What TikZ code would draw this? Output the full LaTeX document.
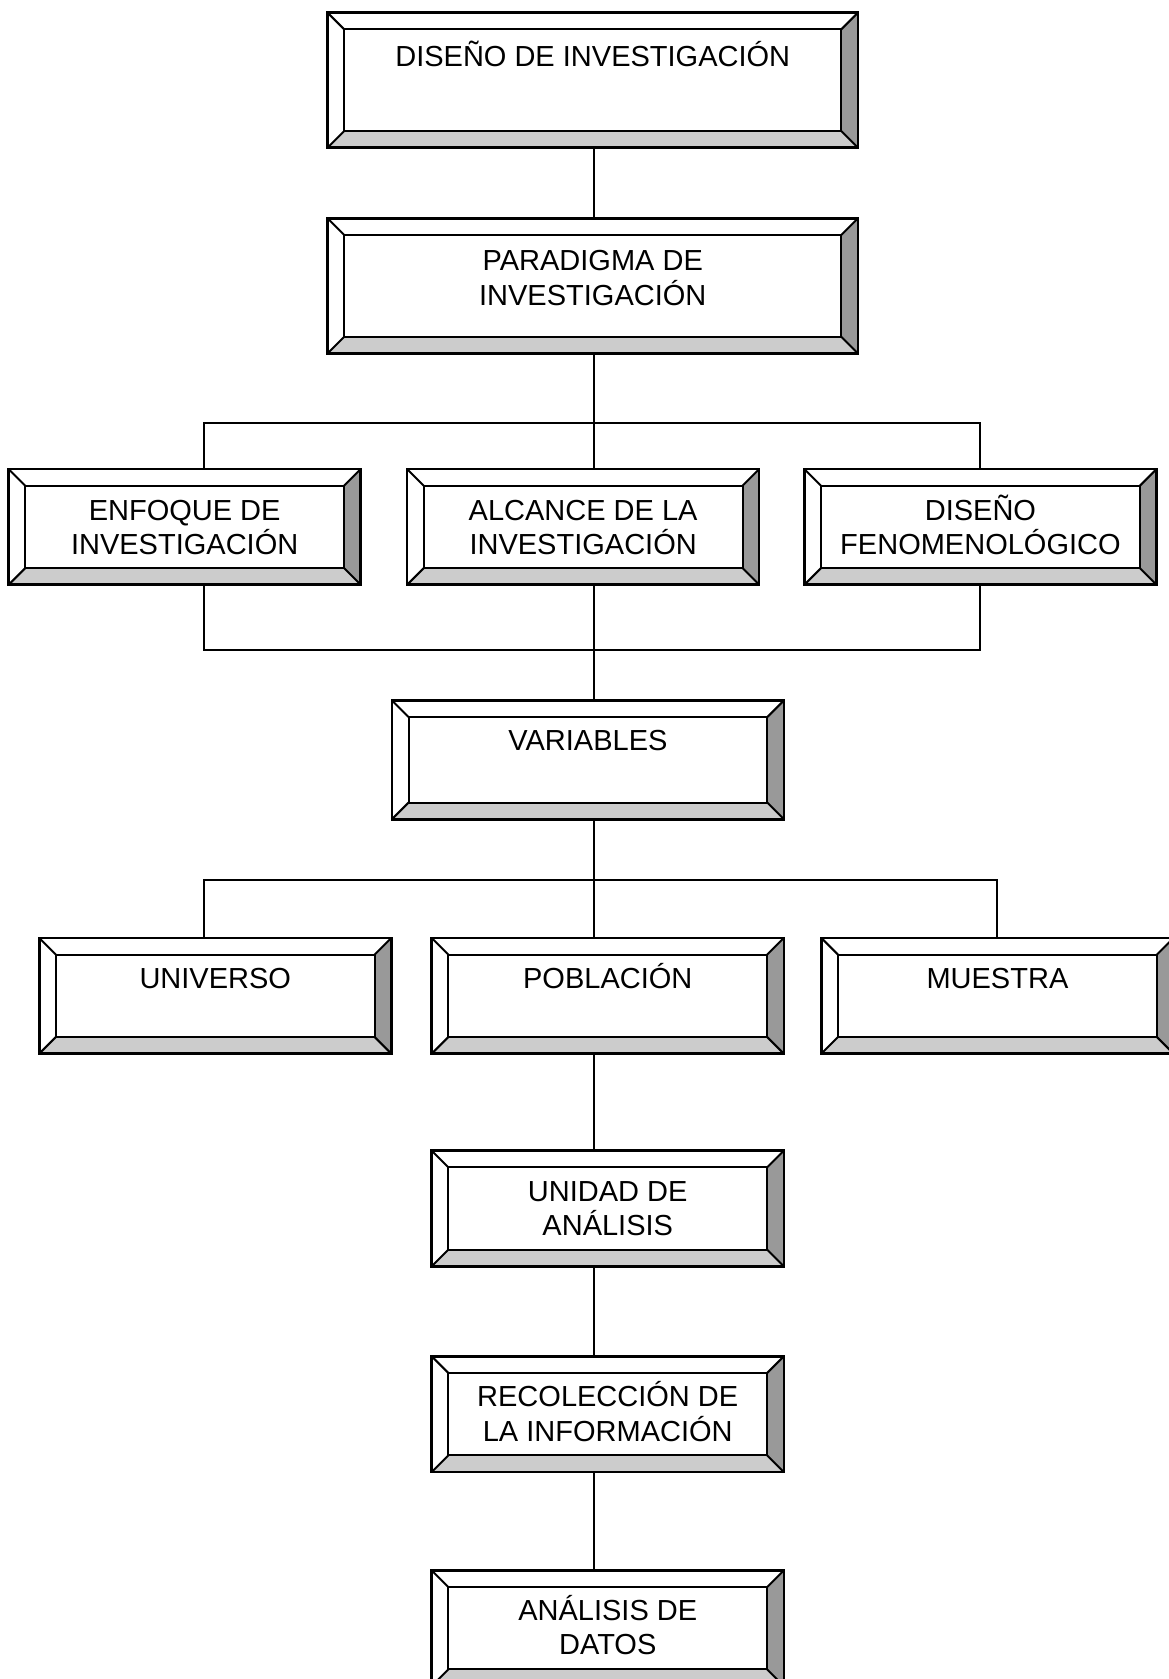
\documentclass[tikz,border=0pt]{standalone}
\usepackage{fontspec}
\setmainfont{Liberation Sans}
\usetikzlibrary{positioning}

\definecolor{bandaclara}{gray}{0.80}
\definecolor{bandaoscura}{gray}{0.60}

\newcommand{\bw}{8.3}
% marco biselado alrededor de una caja ya colocada
\newcommand{\biselar}[1]{%
  \fill[bandaclara] (#1.south west) -- (#1.south east) -- ([shift={(-\bw,\bw)}]#1.south east) -- ([shift={(\bw,\bw)}]#1.south west) -- cycle;
  \fill[bandaoscura] (#1.south east) -- (#1.north east) -- ([shift={(-\bw,-\bw)}]#1.north east) -- ([shift={(-\bw,\bw)}]#1.south east) -- cycle;
  \draw[line width=1pt] ([shift={(\bw,\bw)}]#1.south west) rectangle ([shift={(-\bw,-\bw)}]#1.north east);
  \draw[line width=1pt] (#1.south west) -- ++(\bw,\bw) (#1.south east) -- ++(-\bw,\bw)
    (#1.north east) -- ++(-\bw,-\bw) (#1.north west) -- ++(\bw,-\bw);
  \draw[line width=1.3pt] (#1.south west) rectangle (#1.north east);
}

\begin{document}
\begin{tikzpicture}[
    x=1pt, y=1pt,
    caja/.style={rectangle, outer sep=0pt, inner sep=0pt, minimum width=176pt, minimum height=57.8pt},
    ancha/.style={caja, minimum width=265pt, minimum height=67.4pt},
    media/.style={caja, minimum width=196pt, minimum height=59.4pt},
    texto/.style={align=center, inner sep=0pt, text height=13.6pt, font=\fontsize{14.5}{17.2}\selectfont},
    texto2/.style={texto, text height=30.8pt},
    linea/.style={line width=1pt}
]
\useasboundingbox (0,0) rectangle (584,-839.3);
\fill[white] (0,0) rectangle (584,-839.3);

% cajas
\node[ancha] (diseno) at (296.3,-40.1) {};
\node[ancha] (paradigma) at (296.3,-142.9) {};
\node[caja] (enfoque) at (92.3,-263.4) {};
\node[caja] (alcance) at (291.5,-263.4) {};
\node[caja] (fenomeno) at (490.1,-263.4) {};
\node[media] (variables) at (293.9,-379.8) {};
\node[caja] (universo) at (107.6,-497.8) {};
\node[caja] (poblacion) at (303.8,-497.8) {};
\node[caja] (muestra) at (498.6,-497.8) {};
\node[caja] (unidad) at (303.8,-604.1) {};
\node[caja] (recoleccion) at (303.8,-706.9) {};
\node[caja] (analisis) at (303.8,-813.9) {};

\foreach \c in {diseno,paradigma,enfoque,alcance,fenomeno,variables,universo,poblacion,muestra,unidad,recoleccion,analisis}
  \biselar{\c};

% textos
\node[texto, below=13pt of diseno.north] (diseno-t) {DISEÑO DE INVESTIGACIÓN};
\node[texto2, below=12.4pt of paradigma.north] (paradigma-t) {PARADIGMA DE\\INVESTIGACIÓN};
\node[texto2, below=11.8pt of enfoque.north] (enfoque-t) {ENFOQUE DE\\INVESTIGACIÓN};
\node[texto2, below=11.8pt of alcance.north] (alcance-t) {ALCANCE DE LA\\INVESTIGACIÓN};
\node[texto2, below=11.8pt of fenomeno.north] (fenomeno-t) {DISEÑO\\FENOMENOLÓGICO};
\node[texto, below=11.2pt of variables.north] (variables-t) {VARIABLES};
\node[texto, below=11.6pt of universo.north] (universo-t) {UNIVERSO};
\node[texto, below=11.6pt of poblacion.north] (poblacion-t) {POBLACIÓN};
\node[texto, below=11.6pt of muestra.north] (muestra-t) {MUESTRA};
\node[texto2, below=11.4pt of unidad.north] (unidad-t) {UNIDAD DE\\ANÁLISIS};
\node[texto2, below=11.4pt of recoleccion.north] (recoleccion-t) {RECOLECCIÓN DE\\LA INFORMACIÓN};
\node[texto2, below=11.2pt of analisis.north] (analisis-t) {ANÁLISIS DE\\DATOS};

% conectores
\coordinate (eje) at (297.1,0);
\coordinate (bus1) at (0,-211.4);
\coordinate (bus2) at (0,-324.9);
\coordinate (bus3) at (0,-440.0);

\draw[linea] (diseno.south -| eje) -- (paradigma.north -| eje);
\draw[linea] (paradigma.south -| eje) -- (alcance.north -| eje);
\draw[linea] ([xshift=9.9pt]enfoque.north) -- ([xshift=9.9pt]enfoque.north |- bus1) -- (fenomeno.north |- bus1) -- (fenomeno.north);
\draw[linea] ([xshift=9.9pt]enfoque.south) -- ([xshift=9.9pt]enfoque.south |- bus2) -- (fenomeno.south |- bus2) -- (fenomeno.south);
\draw[linea] (alcance.south -| eje) -- (variables.north -| eje);
\draw[linea] (variables.south -| eje) -- (poblacion.north -| eje);
\draw[linea] ([xshift=-5.4pt]universo.north) -- ([xshift=-5.4pt]universo.north |- bus3) -- (muestra.north |- bus3) -- (muestra.north);
\draw[linea] (poblacion.south -| eje) -- (unidad.north -| eje);
\draw[linea] (unidad.south -| eje) -- (recoleccion.north -| eje);
\draw[linea] (recoleccion.south -| eje) -- (analisis.north -| eje);

\end{tikzpicture}
\end{document}
